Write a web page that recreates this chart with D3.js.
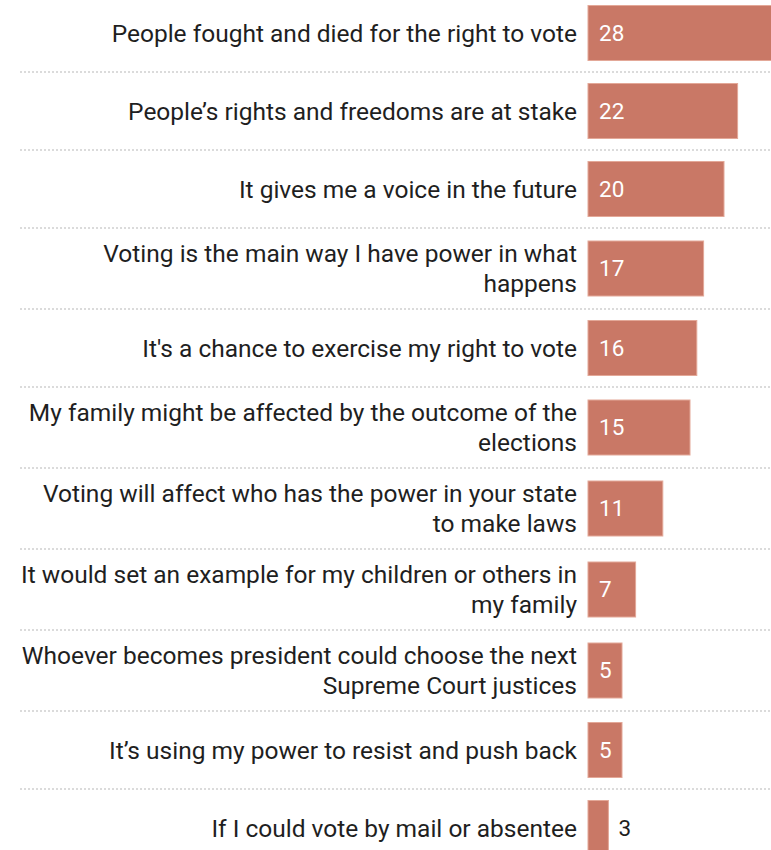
<!DOCTYPE html>
<html>
<head>
<meta charset="utf-8">
<script src="https://cdn.jsdelivr.net/npm/d3@7"></script>
<style>
  html, body { margin: 0; padding: 0; background: #fff; overflow: hidden; }
  svg { display: block; font-family: Roboto, "Noto Sans", sans-serif; }
</style>
</head>
<body>
<svg id="chart" width="771" height="850"></svg>
<script>
// Reasons given for voting (share of respondents, %)
const reasons = [
  "People fought and died for the right to vote",
  "People\u2019s rights and freedoms are at stake",
  "It gives me a voice in the future",
  "Voting is the main way I have power in what\nhappens",
  "It's a chance to exercise my right to vote",
  "My family might be affected by the outcome of the\nelections",
  "Voting will affect who has the power in your state\nto make laws",
  "It would set an example for my children or others in\nmy family",
  "Whoever becomes president could choose the next\nSupreme Court justices",
  "It\u2019s using my power to resist and push back",
  "If I could vote by mail or absentee"
];
const shares = [28, 22, 20, 17, 16, 15, 11, 7, 5, 5, 3];

const rows = reasons.map((r, i) => ({ lines: r.split("\n"), value: shares[i] }));

const svg = d3.select("#chart");
const width = 771;

const labelRight = 577;
const barLeft = 588;
const barH = 55;
const lineH = 30;

const x = d3.scaleLinear().domain([0, 28]).range([barLeft, barLeft + 190.4]);

// row heights grow slightly with wrapped labels
let rowTop = -6;
rows.forEach(d => {
  d.h = d.lines.length > 1 ? 81 : 78;
  d.top = rowTop;
  d.mid = rowTop + d.h / 2;
  rowTop += d.h;
});

// dotted separators between rows
svg.append("g").selectAll("line")
  .data(rows.slice(1))
  .join("line")
  .attr("x1", 20).attr("x2", width)
  .attr("y1", d => d.top).attr("y2", d => d.top)
  .attr("stroke", "#cfcfcf")
  .attr("stroke-width", 1.5)
  .attr("stroke-dasharray", "2,2");

// category labels
const labels = svg.append("g").selectAll("text")
  .data(rows)
  .join("text")
  .attr("text-anchor", "end")
  .attr("font-size", 24.5)
  .attr("fill", "#1f1f1f");

labels.selectAll("tspan")
  .data(d => d.lines.map((t, j) => ({ t, j, n: d.lines.length, mid: d.mid })))
  .join("tspan")
  .attr("x", labelRight)
  .attr("y", l => l.mid + (l.j - (l.n - 1) / 2) * lineH)
  .attr("dy", "0.35em")
  .text(l => l.t);

// bars
svg.append("g").selectAll("rect")
  .data(rows)
  .join("rect")
  .attr("x", x(0))
  .attr("y", d => d.mid - barH / 2)
  .attr("width", d => x(d.value) - x(0))
  .attr("height", barH)
  .attr("fill", "#c97866")
  .attr("stroke", "#e3a898")
  .attr("stroke-width", 1);

// value labels: inside the bar when it fits, otherwise just past its end
svg.append("g").selectAll("text")
  .data(rows)
  .join("text")
  .attr("x", d => d.value >= 5 ? x(0) + 11 : x(d.value) + 10)
  .attr("y", d => d.mid)
  .attr("dy", "0.35em")
  .attr("font-size", 22.5)
  .attr("fill", d => d.value >= 5 ? "#ffffff" : "#1f1f1f")
  .text(d => d.value);
</script>
</body>
</html>
